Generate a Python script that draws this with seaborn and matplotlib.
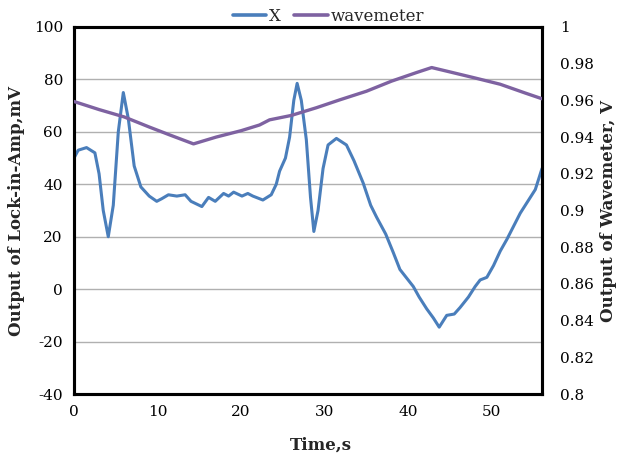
import matplotlib
matplotlib.use("Agg")
import matplotlib.pyplot as plt
import seaborn as sns
import pandas as pd
from matplotlib.ticker import FuncFormatter, MultipleLocator
from matplotlib.lines import Line2D

sns.set_theme(style="white")
plt.rcParams['font.family'] = ['DejaVu Serif']
plt.rcParams['axes.unicode_minus'] = False

x_time = [0, 0.5, 1.5, 2.5, 3.0, 3.5, 4.1, 4.7, 5.3, 5.9, 6.5, 7.2, 8.0, 9.0, 9.9,
          10.5, 11.3, 12.3, 13.3, 14.0, 15.3, 16.1, 16.9, 17.9, 18.5, 19.1, 20.1,
          20.8, 21.4, 22.6, 23.6, 24.2, 24.6, 25.3, 25.8, 26.3, 26.7, 27.2, 27.8,
          28.3, 28.7, 29.2, 29.8, 30.4, 31.4, 32.6, 33.5, 34.6, 35.5, 36.2, 37.3,
          38.2, 39.0, 40.6, 41.3, 42.2, 43.0, 43.7, 44.6, 45.5, 46.2, 47.2, 48.0,
          48.6, 49.4, 50.2, 51.0, 51.8, 52.6, 53.4, 54.2, 55.2, 56.0]
x_values = [50, 53, 54, 52, 44, 30, 20, 32, 60, 75, 65, 47, 39, 35.5, 33.5,
            34.5, 36, 35.5, 36, 33.5, 31.5, 35, 33.5, 36.5, 35.5, 37, 35.5,
            36.5, 35.5, 34, 36, 40, 45, 50, 58, 72, 78.5, 72, 57,
            35, 22, 30, 46, 55, 57.5, 55, 49, 40.5, 32, 27.5, 21,
            14, 7.5, 1, -3, -7.5, -11, -14.5, -10, -9.5, -7, -3, 1,
            3.5, 4.5, 9, 14.5, 19, 24, 29, 33, 38, 46]

wave_time = [0, 3, 6, 9, 11.5, 14.3, 17, 20, 22.2, 23.4, 26, 29, 31.8, 35, 38, 41, 42.8,
             45, 48, 51, 54, 56]
wave_values = [0.9594, 0.9550, 0.9510, 0.9455, 0.9411, 0.9363, 0.9400, 0.9435, 0.9466,
               0.9494, 0.9518, 0.9560, 0.9603, 0.9650, 0.9705, 0.9752, 0.9779,
               0.9755, 0.9722, 0.9688, 0.9640, 0.9609]

df_x = pd.DataFrame({"t": x_time, "v": x_values})
df_w = pd.DataFrame({"t": wave_time, "v": wave_values})

blue = "#4A7EBB"
purple = "#7E62A1"

fig = plt.figure(figsize=(6.2, 4.57), dpi=100)
ax = fig.add_axes([74/620, 1-394/457, (542-74)/620, (394-27)/457])
ax2 = ax.twinx()

sns.lineplot(data=df_x, x="t", y="v", ax=ax, color=blue, linewidth=2.2, zorder=3)
sns.lineplot(data=df_w, x="t", y="v", ax=ax2, color=purple, linewidth=2.4, zorder=3)

ax.set_xlim(0, 56)
ax.set_ylim(-40, 100)
ax2.set_ylim(0.8, 1.0)
ax.yaxis.set_major_locator(MultipleLocator(20))
ax.xaxis.set_major_locator(MultipleLocator(10))
ax2.yaxis.set_major_locator(MultipleLocator(0.02))
ax2.yaxis.set_major_formatter(FuncFormatter(lambda v, p: f"{round(v, 2):g}"))

ax.grid(axis="y", color="#B0B0B0", linewidth=1.0)
ax.set_axisbelow(True)
for a in (ax, ax2):
    for s in a.spines.values():
        s.set_color("black")
        s.set_linewidth(2.2)
    a.tick_params(length=0, labelsize=11, colors="black", pad=8)
ax2.tick_params(axis="y", pad=13)

ax.set_xlabel("Time,s", fontsize=12, fontweight="bold")
ax.xaxis.set_label_coords(0.528, -0.115)
ax.set_ylabel("Output of Lock-in-Amp,mV", fontsize=12, fontweight="bold", labelpad=6)
ax2.set_ylabel("Output of Wavemeter, V", fontsize=12, fontweight="bold", labelpad=4)

handles = [Line2D([], [], color=blue, linewidth=2.6), Line2D([], [], color=purple, linewidth=2.6)]
fig.legend(handles, ["X", "wavemeter"], loc="upper center", bbox_to_anchor=(0.53, 1.015),
           ncol=2, frameon=False, fontsize=12, handlelength=2.0, columnspacing=0.8,
           handletextpad=0.2)

fig.savefig("out.png", dpi=100)
